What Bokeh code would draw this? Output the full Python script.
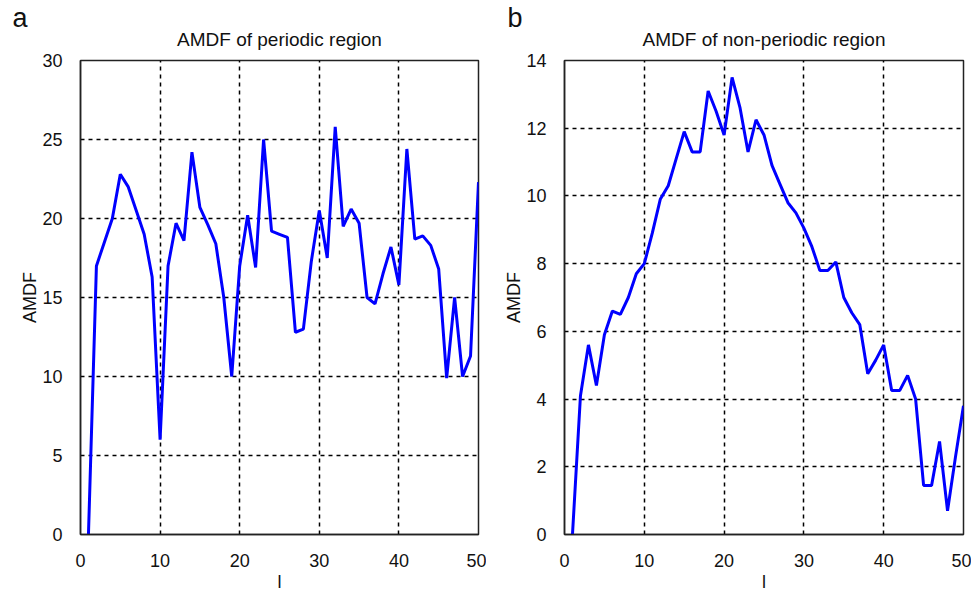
from bokeh.plotting import figure
from bokeh.layouts import row
from bokeh.models import FixedTicker, Range1d, Title
from bokeh.embed import file_html
from bokeh.resources import INLINE

lag = list(range(1, 51))

periodic_amdf = [0.0, 17.0, 18.5, 20.0, 22.8, 22.0, 20.5, 19.0, 16.3, 6.0,
                 17.0, 19.7, 18.6, 24.2, 20.7, 19.6, 18.4, 15.0, 10.0, 17.0,
                 20.2, 16.9, 25.0, 19.2, 19.0, 18.8, 12.8, 13.0, 17.3, 20.5,
                 17.5, 25.8, 19.5, 20.6, 19.7, 15.0, 14.6, 16.5, 18.2, 15.8,
                 24.4, 18.7, 18.9, 18.3, 16.8, 9.9, 15.0, 10.0, 11.3, 22.3]

nonperiodic_amdf = [0.0, 4.1, 5.6, 4.4, 5.9, 6.6, 6.5, 7.0, 7.7, 8.0,
                    8.9, 9.9, 10.3, 11.1, 11.9, 11.3, 11.3, 13.1, 12.5, 11.8,
                    13.5, 12.6, 11.3, 12.25, 11.8, 10.9, 10.35, 9.8, 9.5, 9.05,
                    8.5, 7.8, 7.8, 8.05, 7.0, 6.55, 6.2, 4.75, 5.15, 5.6,
                    4.25, 4.25, 4.7, 4.0, 1.45, 1.45, 2.75, 0.7, 2.3, 3.8]

x_ticks = [0, 10, 20, 30, 40, 50]
y_ticks_a = [0, 5, 10, 15, 20, 25, 30]
y_ticks_b = [0, 2, 4, 6, 8, 10, 12, 14]

titles = ["AMDF of periodic region", "AMDF of non-periodic region"]
panel_letters = ["a", "b"]
x_label = "l"
y_label = "AMDF"

FONT = "Liberation Sans"


def make_panel(values, yticks, ymax, title, letter, width, bl, br, letter_offset):
    p = figure(width=width, height=600, output_backend="svg", toolbar_location=None,
               x_range=Range1d(0, 50), y_range=Range1d(0, ymax),
               min_border_left=bl, min_border_right=br, min_border_top=60,
               min_border_bottom=66)
    # outer title: panel letter
    p.title.text = letter
    p.title.align = "left"
    p.title.offset = letter_offset
    p.title.text_font = FONT
    p.title.text_font_size = "27px"
    p.title.text_font_style = "normal"
    p.title.text_color = "#111111"
    p.title.standoff = -33
    # inner title: chart title
    p.add_layout(Title(text=title, align="center", text_font=FONT,
                       text_font_size="19px", text_font_style="normal",
                       text_color="#111111", standoff=21), "above")

    p.line(lag, values, line_color="#0000FF", line_width=3)

    p.xaxis.ticker = FixedTicker(ticks=x_ticks)
    p.yaxis.ticker = FixedTicker(ticks=yticks)
    for ax in (p.xaxis[0], p.yaxis[0]):
        ax.major_tick_out = 0
        ax.major_tick_in = 0
        ax.minor_tick_out = 0
        ax.minor_tick_in = 0
        ax.axis_line_color = "#222222"
        ax.axis_line_width = 1.5
        ax.major_label_text_font = FONT
        ax.major_label_text_font_size = "18px"
        ax.major_label_text_color = "#111111"
        ax.axis_label_text_font = FONT
        ax.axis_label_text_font_size = "18px"
        ax.axis_label_text_font_style = "normal"
        ax.axis_label_text_color = "#111111"
    p.xaxis.axis_label = x_label
    p.yaxis.axis_label = y_label
    p.xaxis.major_label_standoff = 19
    p.xaxis.axis_label_standoff = 2
    p.yaxis.major_label_standoff = 18
    p.yaxis.axis_label_standoff = -1

    for g in (p.xgrid[0], p.ygrid[0]):
        g.grid_line_color = "black"
        g.grid_line_width = 1.5
        g.grid_line_dash = "4 4"
    p.outline_line_color = "#222222"
    p.outline_line_width = 1.5
    p.background_fill_color = "white"
    p.border_fill_color = "white"
    return p


pa = make_panel(periodic_amdf, y_ticks_a, 30, titles[0], panel_letters[0], 486, 80, 8, -68)
pb = make_panel(nonperiodic_amdf, y_ticks_b, 14, titles[1], panel_letters[1], 485, 78, 8, -57)

layout = row(pa, pb)
open("out.html", "w").write(file_html(layout, INLINE))
